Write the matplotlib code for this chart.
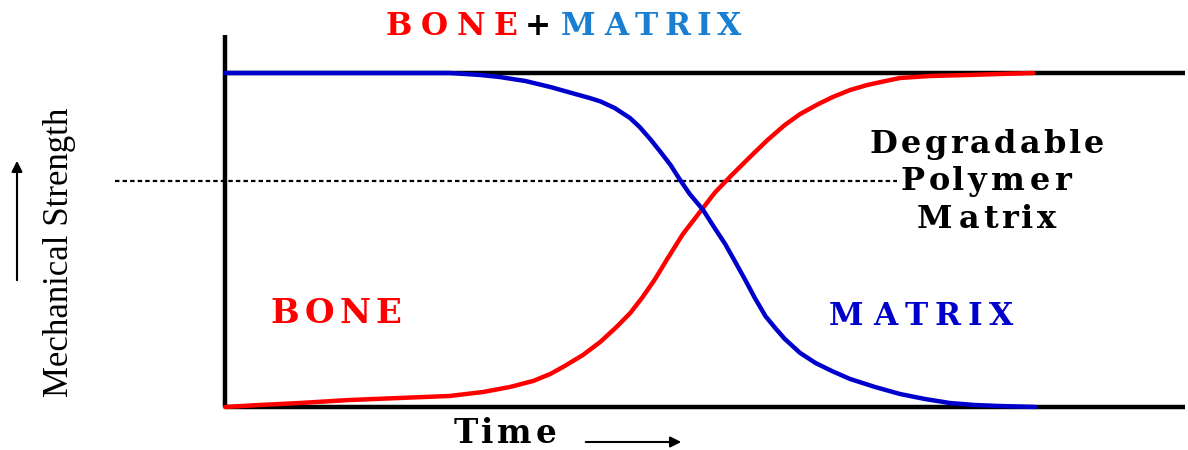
import matplotlib
matplotlib.use("Agg")
import matplotlib.pyplot as plt

# time (0-100) vs mechanical strength (0-100)
bone_t = [0, 3.6, 7.8, 13.0, 18.2, 23.4, 26.9, 29.7, 32.1, 33.9, 35.4, 37.3,
          39.1, 40.8, 42.2, 43.5, 44.8, 46.0, 47.7, 49.8, 51.0, 52.6, 54.7,
          56.5, 58.3, 59.9, 61.8, 63.3, 65.1, 66.9, 68.8, 70.3, 73.4, 77.3,
          80.7, 84.2]
bone_s = [0, 0.6, 1.2, 2.1, 2.7, 3.3, 4.5, 6.0, 7.8, 9.9, 12.3, 15.6,
          19.5, 24.0, 28.1, 32.9, 38.3, 44.0, 51.8, 59.6, 64.1, 68.9, 74.9,
          79.9, 84.4, 87.7, 90.7, 92.8, 94.9, 96.4, 97.6, 98.5, 99.1, 99.4,
          99.7, 100]

matrix_t = [0, 7.8, 18.2, 23.4, 26.6, 28.6, 31.3, 33.9, 36.5, 38.0, 39.1,
            40.6, 42.2, 43.2, 44.3, 45.3, 46.4, 47.4, 48.4, 49.8, 51.0, 52.1,
            53.1, 54.2, 55.2, 56.3, 57.3, 58.3, 59.9, 61.5, 63.2, 65.1, 67.7,
            70.3, 72.9, 75.5, 78.1, 80.7, 84.4]
matrix_s = [100, 100, 100, 100, 99.4, 98.8, 97.6, 95.8, 93.7, 92.5, 91.5,
            89.5, 86.5, 83.8, 80.2, 76.6, 72.5, 68.0, 63.8, 59.0, 53.6, 48.8,
            43.7, 38.0, 32.6, 27.2, 23.7, 20.4, 16.2, 13.2, 10.8, 8.4, 6.0,
            3.9, 2.4, 1.2, 0.6, 0.3, 0]

threshold = 67.7   # dotted line level
RED = "#ff0000"
BLUE = "#0000cc"
LIGHTBLUE = "#1a7fd0"

fig = plt.figure(figsize=(11.88, 4.5), dpi=100)
ax = fig.add_axes([225 / 1188, 43 / 450, 960 / 1188, 372 / 450])
ax.set_xlim(0, 100)
ax.set_ylim(0, 372 / 3.34)
ax.axis("off")

# frame lines
ax.plot([0, 100], [100, 100], color="black", lw=3.2, clip_on=False, solid_capstyle="butt")
ax.plot([0, 100], [0, 0], color="black", lw=3.2, clip_on=False, solid_capstyle="butt")
ax.plot([0, 0], [0, 372 / 3.34], color="black", lw=3.2, clip_on=False, solid_capstyle="butt")
ax.plot([-11.5, 70], [threshold, threshold], color="black", lw=1.6,
        linestyle=(0, (2, 1.4)), clip_on=False)

ax.plot(bone_t, bone_s, color=RED, lw=3.2, clip_on=False, solid_capstyle="round")
ax.plot(matrix_t, matrix_s, color=BLUE, lw=3.2, clip_on=False, solid_capstyle="round")

renderer = fig.canvas.get_renderer()


def text_width(s, **kw):
    t = ax.text(0, 0, s, **kw)
    w = t.get_window_extent(renderer).width
    t.remove()
    return w


def stretched(x, y, s, colors, width, ha="left", **kw):
    # fake a horizontally stretched font: spread letters to the given width (px)
    prefix = [text_width(s[:i], **kw) if i else 0.0 for i in range(len(s) + 1)]
    stretch = width / prefix[-1]
    start = 0 if ha == "left" else -width / 2
    for i, ch in enumerate(s):
        w = prefix[i + 1] - prefix[i]
        off = start + stretch * (prefix[i] + w / 2)
        ax.annotate(ch, xy=(x, y), xycoords="data", xytext=(off * 72 / 100, 0),
                    textcoords="offset points", ha="center", va="baseline",
                    color=colors[i], annotation_clip=False, **kw)


bold = dict(family="DejaVu Serif", fontweight="bold")

stretched(16.35, 111.4, "BONE+MATRIX",
          [RED] * 4 + ["black"] + [LIGHTBLUE] * 6, 363, fontsize=22.5, **bold)
stretched(79.3, 76.0, "Degradable", ["black"] * 10, 238, ha="center", fontsize=23, **bold)
stretched(79.2, 65.0, "Polymer", ["black"] * 7, 174, ha="center", fontsize=23, **bold)
stretched(79.2, 53.6, "Matrix", ["black"] * 6, 145, ha="center", fontsize=23, **bold)
stretched(4.5, 25.1, "BONE", [RED] * 4, 135, fontsize=24.5, **bold)
stretched(62.3, 24.6, "MATRIX", [BLUE] * 6, 194, fontsize=22.5, **bold)
stretched(23.6, -10.8, "Time", ["black"] * 4, 106, fontsize=23.5, **bold)

fig.text(60 / 1188, 1 - 252 / 450, "Mechanical Strength", rotation=90,
         ha="center", va="center", fontsize=25, family="Liberation Serif")

arrow = dict(arrowstyle="-|>", lw=1.5, color="black", mutation_scale=16)
ax.annotate("", xy=(17, 450 - 158), xytext=(17, 450 - 283),
            xycoords="figure pixels", textcoords="figure pixels", arrowprops=arrow)
ax.annotate("", xy=(684, 450 - 442), xytext=(583, 450 - 442),
            xycoords="figure pixels", textcoords="figure pixels", arrowprops=arrow)

fig.savefig("out.png", dpi=100)
